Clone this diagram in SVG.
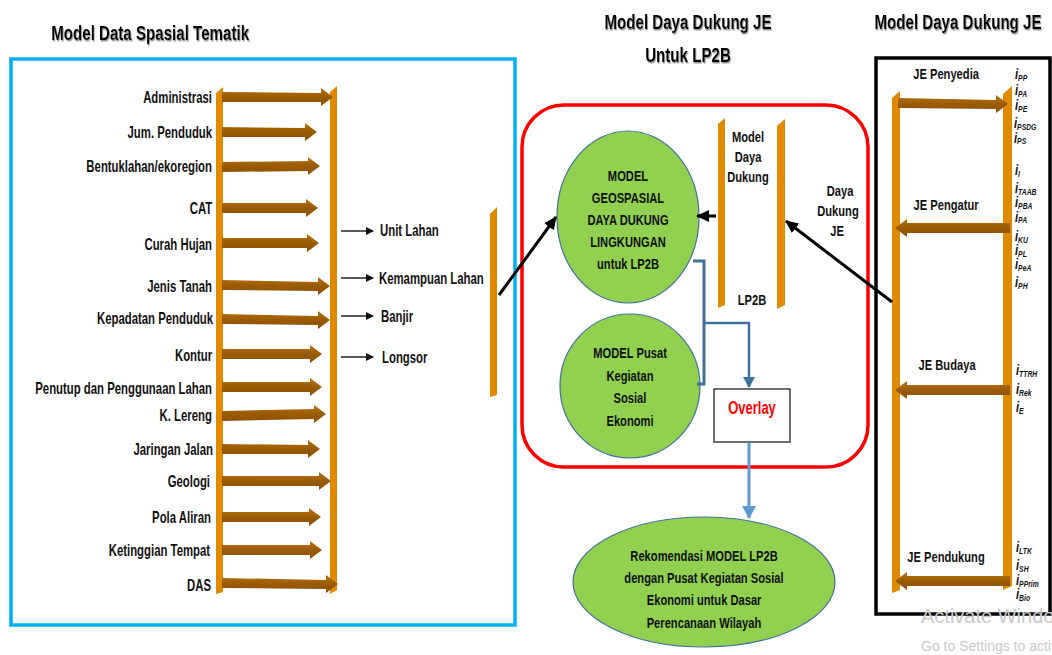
<svg xmlns="http://www.w3.org/2000/svg" width="1052" height="655" viewBox="0 0 1052 655">
<defs>
<style>
.t{font-family:"Liberation Sans",Arial,sans-serif;font-weight:bold;fill:#111;transform-box:fill-box;}
.e{text-anchor:end;transform-origin:right center;transform:scaleX(0.72);}
.m{text-anchor:middle;transform-origin:center;transform:scaleX(0.72);}
.s{text-anchor:start;transform-origin:left center;transform:scaleX(0.72);}
.lab{font-size:15.8px;}
.c{font-size:15.5px;}
.ttl{font-size:21px;filter:url(#sh);fill:#000;}
.idx{font-size:14px;font-style:italic;transform:scaleX(0.8);}
.sub{font-size:8.5px;}
.bar{fill:#df8a00;}
.arw{fill:url(#ag);}
.ell{fill:#92d050;stroke:#41719c;stroke-width:1.2;}
.wm{font-family:"Liberation Sans",sans-serif;fill:#c9c9c9;}
</style>
<filter id="sh" x="-5%" y="-20%" width="110%" height="150%"><feDropShadow dx="1" dy="1.5" stdDeviation="0.6" flood-color="#777" flood-opacity="0.8"/></filter>
<linearGradient id="ag" x1="0" y1="0" x2="0" y2="1"><stop offset="0" stop-color="#b8730e"/><stop offset="0.5" stop-color="#9a5b06"/><stop offset="1" stop-color="#8a5003"/></linearGradient>
<marker id="mk" markerWidth="8" markerHeight="8" refX="7" refY="4" orient="auto" markerUnits="userSpaceOnUse"><path d="M0,0 L8,4 L0,8 z" fill="#111"/></marker>
<marker id="mbig" markerWidth="14" markerHeight="14" refX="12" refY="7" orient="auto" markerUnits="userSpaceOnUse"><path d="M0,1 L13,7 L0,13 z" fill="#000"/></marker>
<marker id="msb" markerWidth="12" markerHeight="12" refX="10" refY="6" orient="auto" markerUnits="userSpaceOnUse"><path d="M0,0 L11,6 L0,12 z" fill="#41719c"/></marker>
<marker id="mlb" markerWidth="14" markerHeight="14" refX="12" refY="7" orient="auto" markerUnits="userSpaceOnUse"><path d="M0,0 L13,7 L0,14 z" fill="#5b9bd5"/></marker>
</defs>
<rect width="1052" height="655" fill="#fff"/>

<g id="titles">
<text class="t m ttl" x="150" y="40">Model Data Spasial Tematik</text>
<text class="t m ttl" x="688" y="29">Model Daya Dukung JE</text>
<text class="t m ttl" x="688" y="62">Untuk LP2B</text>
<text class="t m ttl" x="958" y="29">Model Daya Dukung JE</text>
</g>

<g id="panel-left">
<rect x="11" y="59" width="504" height="566" fill="none" stroke="#00b0f0" stroke-width="3.5"/>
<polygon class="bar" points="216,93 223,87 223,592 216,594"/>
<polygon class="bar" points="330,92 337,86 337,590 330,594"/>
<polygon class="arw" points="222,92 321,93 321,88 333,97 321,106 321,102 222,102"/>
<polygon class="arw" points="222,127 305,128 305,123 317,132 305,141 305,137 222,137"/>
<polygon class="arw" points="222,162 308,161 308,157 320,166 308,175 308,171 222,172"/>
<polygon class="arw" points="222,203 306,203 306,199 318,208 306,217 306,213 222,213"/>
<polygon class="arw" points="222,238 307,238 307,234 319,243 307,252 307,248 222,248"/>
<polygon class="arw" points="222,280 318,282 318,277 330,286 318,295 318,291 222,290"/>
<polygon class="arw" points="222,314 318,316 318,311 330,320 318,329 318,325 222,324"/>
<polygon class="arw" points="222,349 310,349 310,345 322,354 310,363 310,359 222,359"/>
<polygon class="arw" points="222,382 310,382 310,378 322,387 310,396 310,392 222,392"/>
<polygon class="arw" points="222,411 314,409 314,405 326,414 314,423 314,419 222,421"/>
<polygon class="arw" points="222,444 308,445 308,440 320,449 308,458 308,454 222,454"/>
<polygon class="arw" points="222,476 319,476 319,472 331,481 319,490 319,486 222,486"/>
<polygon class="arw" points="222,512 309,512 309,508 321,517 309,526 309,522 222,522"/>
<polygon class="arw" points="222,545 310,545 310,541 322,550 310,559 310,555 222,555"/>
<polygon class="arw" points="222,578 326,580 326,575 338,584 326,593 326,589 222,588"/>
<text class="t e lab" x="212" y="103">Administrasi</text>
<text class="t e lab" x="212" y="138">Jum. Penduduk</text>
<text class="t e lab" x="212" y="172">Bentuklahan/ekoregion</text>
<text class="t e lab" x="212" y="214">CAT</text>
<text class="t e lab" x="212" y="250">Curah Hujan</text>
<text class="t e lab" x="212" y="292">Jenis Tanah</text>
<text class="t e lab" x="213" y="324">Kepadatan Penduduk</text>
<text class="t e lab" x="212" y="361">Kontur</text>
<text class="t e lab" x="212" y="394">Penutup dan Penggunaan Lahan</text>
<text class="t e lab" x="212" y="421">K. Lereng</text>
<text class="t e lab" x="213" y="455">Jaringan Jalan</text>
<text class="t e lab" x="210" y="487">Geologi</text>
<text class="t e lab" x="211" y="523">Pola Aliran</text>
<text class="t e lab" x="210" y="556">Ketinggian Tempat</text>
<text class="t e lab" x="211" y="591">DAS</text>
</g>

<g id="outputs-left">
<text class="t s lab" x="380" y="236">Unit Lahan</text>
<text class="t s lab" x="379" y="284">Kemampuan Lahan</text>
<text class="t s lab" x="381" y="322">Banjir</text>
<text class="t s lab" x="382" y="363">Longsor</text>
<polygon class="bar" points="490,214 497,207 497,395 490,397"/>
</g>

<g id="panel-middle">
<rect x="522" y="105" width="346" height="362" rx="42" ry="42" fill="none" stroke="#ff0000" stroke-width="3.5"/>
<polygon class="bar" points="718,124 725,118 725,305 718,308"/>
<polygon class="bar" points="777,126 785,119 785,305 777,309"/>
<text class="t m c" x="748" y="142">Model</text>
<text class="t m c" x="748" y="162">Daya</text>
<text class="t m c" x="748" y="182">Dukung</text>
<text class="t m c" x="752" y="305">LP2B</text>
<text class="t m c" x="840" y="196">Daya</text>
<text class="t m c" x="838" y="216">Dukung</text>
<text class="t m c" x="837" y="236">JE</text>
</g>

<g id="node-geospasial">
<ellipse class="ell" cx="628" cy="217" rx="71" ry="86"/>
<text class="t m c" x="628" y="181">MODEL</text>
<text class="t m c" x="628" y="203">GEOSPASIAL</text>
<text class="t m c" x="628" y="225">DAYA DUKUNG</text>
<text class="t m c" x="628" y="247">LINGKUNGAN</text>
<text class="t m c" x="628" y="269">untuk LP2B</text>
</g>

<g id="node-pusat">
<ellipse class="ell" cx="630" cy="386" rx="70" ry="72"/>
<text class="t m c" x="630" y="358">MODEL Pusat</text>
<text class="t m c" x="630" y="381">Kegiatan</text>
<text class="t m c" x="630" y="403">Sosial</text>
<text class="t m c" x="630" y="426">Ekonomi</text>
</g>

<g id="node-overlay">
<rect x="714" y="389" width="76" height="53" fill="#fff" stroke="#222" stroke-width="1.3"/>
<text class="t m" x="752" y="414" font-size="18" style="fill:#ff0000">Overlay</text>
</g>

<g id="node-rekomendasi">
<ellipse class="ell" cx="704" cy="582" rx="131" ry="65"/>
<text class="t m c" x="704" y="561">Rekomendasi MODEL LP2B</text>
<text class="t m c" x="704" y="583">dengan Pusat Kegiatan Sosial</text>
<text class="t m c" x="704" y="605">Ekonomi untuk Dasar</text>
<text class="t m c" x="704" y="628">Perencanaan Wilayah</text>
</g>

<g id="panel-right">
<rect x="876" y="58" width="174" height="556" fill="none" stroke="#000" stroke-width="3.5"/>
<polygon class="bar" points="892,98 900,91 900,590 892,593"/>
<polygon class="bar" points="1003,94 1012,86 1012,586 1003,590"/>
<polygon class="arw" points="898,98 996,100 996,95 1008,104 996,113 996,109 898,108"/>
<polygon class="arw" points="1010,223 907,223 907,219 895,228 907,237 907,233 1010,233"/>
<polygon class="arw" points="1010,385 907,385 907,381 895,390 907,399 907,395 1010,395"/>
<polygon class="arw" points="1010,576 907,576 907,572 895,581 907,590 907,586 1010,586"/>
<text class="t m c" x="946" y="79">JE Penyedia</text>
<text class="t m c" x="946" y="210">JE Pengatur</text>
<text class="t m c" x="947" y="370">JE Budaya</text>
<text class="t m c" x="946" y="562">JE Pendukung</text>
</g>

<g id="indices">
<text class="t s idx" x="1015" y="79">i<tspan class="sub" dy="2">PP</tspan></text>
<text class="t s idx" x="1015" y="95">i<tspan class="sub" dy="2">PA</tspan></text>
<text class="t s idx" x="1015" y="110">i<tspan class="sub" dy="2">PE</tspan></text>
<text class="t s idx" x="1014" y="128">i<tspan class="sub" dy="2">PSDG</tspan></text>
<text class="t s idx" x="1014" y="143">i<tspan class="sub" dy="1">PS</tspan></text>
<text class="t s idx" x="1015" y="175">i<tspan class="sub" dy="2">I</tspan></text>
<text class="t s idx" x="1015" y="193">i<tspan class="sub" dy="2">TAAB</tspan></text>
<text class="t s idx" x="1015" y="207">i<tspan class="sub" dy="2">PBA</tspan></text>
<text class="t s idx" x="1015" y="222">i<tspan class="sub" dy="1">PA</tspan></text>
<text class="t s idx" x="1015" y="241">i<tspan class="sub" dy="2">KU</tspan></text>
<text class="t s idx" x="1015" y="255">i<tspan class="sub" dy="2">PL</tspan></text>
<text class="t s idx" x="1015" y="269">i<tspan class="sub" dy="2">PeA</tspan></text>
<text class="t s idx" x="1015" y="287">i<tspan class="sub" dy="2">PH</tspan></text>
<text class="t s idx" x="1016" y="375">i<tspan class="sub" dy="2">TTRH</tspan></text>
<text class="t s idx" x="1016" y="394">i<tspan class="sub" dy="2">Rek</tspan></text>
<text class="t s idx" x="1016" y="412">i<tspan class="sub" dy="2">E</tspan></text>
<text class="t s idx" x="1016" y="552">i<tspan class="sub" dy="2">LTK</tspan></text>
<text class="t s idx" x="1016" y="570">i<tspan class="sub" dy="2">SH</tspan></text>
<text class="t s idx" x="1016" y="585">i<tspan class="sub" dy="2">PPrim</tspan></text>
<text class="t s idx" x="1016" y="599">i<tspan class="sub" dy="2">Bio</tspan></text>
</g>

<g id="connectors" fill="none">
<line x1="341" y1="231" x2="373" y2="231" stroke="#111" stroke-width="1.4" marker-end="url(#mk)"/>
<line x1="341" y1="278" x2="373" y2="278" stroke="#111" stroke-width="1.4" marker-end="url(#mk)"/>
<line x1="341" y1="316" x2="373" y2="316" stroke="#111" stroke-width="1.4" marker-end="url(#mk)"/>
<line x1="341" y1="357" x2="373" y2="357" stroke="#111" stroke-width="1.4" marker-end="url(#mk)"/>
<line x1="499" y1="295" x2="556" y2="217" stroke="#000" stroke-width="3" marker-end="url(#mbig)"/>
<line x1="716" y1="216" x2="697" y2="216" stroke="#000" stroke-width="3" marker-end="url(#mbig)"/>
<line x1="892" y1="302" x2="786" y2="221" stroke="#000" stroke-width="3" marker-end="url(#mbig)"/>
<polyline points="693,261 704,261 704,384 697,384" stroke="#41719c" stroke-width="3"/>
<polyline points="704,323 749,323 749,387" stroke="#41719c" stroke-width="2.5" marker-end="url(#msb)"/>
<line x1="749" y1="443" x2="749" y2="518" stroke="#5b9bd5" stroke-width="3" marker-end="url(#mlb)"/>
</g>

<g id="watermark">
<text class="wm" x="921" y="623" font-size="20">Activate Windows</text>
<text class="wm" x="921" y="651" font-size="14">Go to Settings to activate Windows.</text>
</g>
</svg>
